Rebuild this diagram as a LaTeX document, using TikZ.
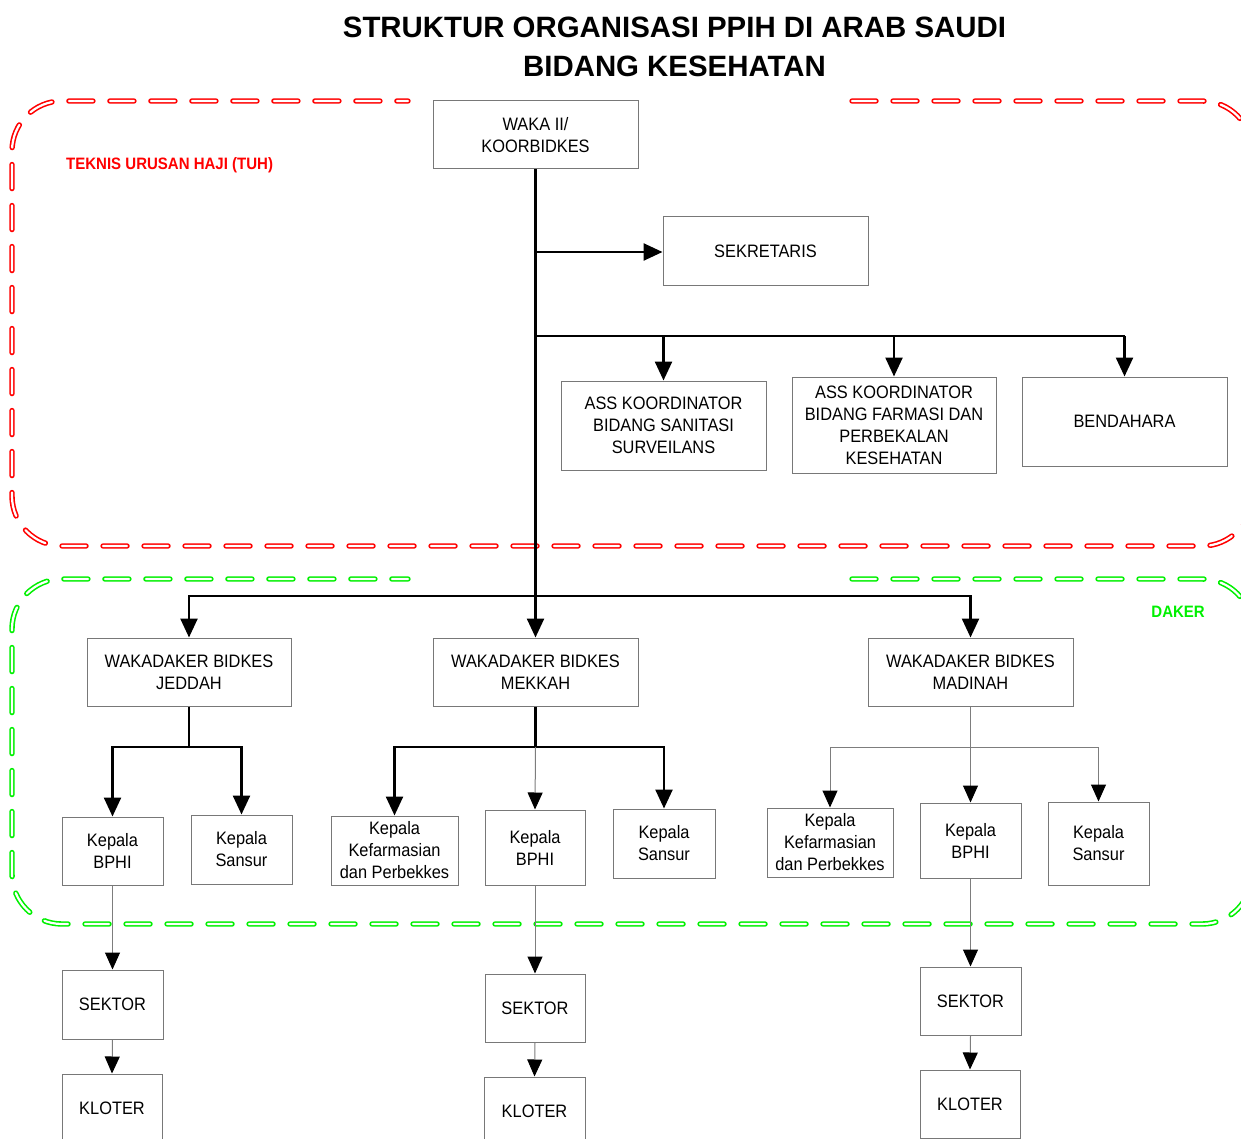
\documentclass[tikz,border=0pt]{standalone}
\usepackage{fontspec}
\setmainfont{Liberation Sans}[FakeStretch=0.91]
\newfontfamily\titlefont{Liberation Sans}
\usetikzlibrary{arrows.meta}
\definecolor{boxgray}{RGB}{120,120,120}
\definecolor{linegray}{RGB}{125,125,125}
\definecolor{zred}{RGB}{255,0,0}
\definecolor{zgreen}{RGB}{0,240,0}
\begin{document}
\begin{tikzpicture}[x=1pt,y=-1pt,
  box/.style={draw=boxgray, line width=1pt, inner sep=0pt, align=center,
    font=\fontsize{18}{22}\selectfont},
  thickline/.style={line width=2.5pt, black},
  conn/.style={line width=2.5pt, black, -{Triangle[width=17pt,length=19pt]}},
  thinline/.style={line width=1pt, linegray},
  thinconn/.style={line width=1pt, linegray, -{Triangle[width=15pt,length=17pt,color=black,fill=black]}},
  zone/.style={double=white, double distance=2.2pt, line width=1.6pt, line cap=round,
    dash pattern=on 24pt off 17pt, rounded corners=50pt}]
\useasboundingbox (0,0) rectangle (1241,1139);

% zones
\draw[zone, zred] (852,101) -- (1252,101) -- (1252,546) -- (12,546) -- (12,101) -- (408,101);
\draw[zone, zgreen] (852,579) -- (1252,579) -- (1252,924) -- (12,924) -- (12,579) -- (408,579);

% title and zone labels
\node[font=\titlefont\bfseries\fontsize{29.4}{39}\selectfont, align=center] (title) at (674.5,46.5)
  {STRUKTUR ORGANISASI PPIH DI ARAB SAUDI\\BIDANG KESEHATAN};
\node[font=\bfseries\fontsize{16.5}{20}\selectfont, text=zred, anchor=west, inner sep=0pt] (tuh) at (66,165) {TEKNIS URUSAN HAJI (TUH)};
\node[font=\bfseries\fontsize{16.5}{20}\selectfont, text=zgreen, anchor=east, inner sep=0pt] (daker) at (1205,612) {DAKER};

% boxes
\node[box, minimum width=205pt, minimum height=68pt] (waka) at (535.5,135) {WAKA II/\\KOORBIDKES};
\node[box, minimum width=205pt, minimum height=69pt] (sek) at (765.5,251.5) {SEKRETARIS};
\node[box, minimum width=205pt, minimum height=89pt] (san) at (663.5,425.5) {ASS KOORDINATOR\\BIDANG SANITASI\\SURVEILANS};
\node[box, minimum width=204pt, minimum height=96pt] (far) at (894,425) {ASS KOORDINATOR\\BIDANG FARMASI DAN\\PERBEKALAN\\KESEHATAN};
\node[box, minimum width=205pt, minimum height=89pt] (ben) at (1124.5,421.5) {BENDAHARA};

\node[box, minimum width=204pt, minimum height=68pt] (wj) at (189,672) {WAKADAKER BIDKES\\JEDDAH};
\node[box, minimum width=205pt, minimum height=68pt] (wm) at (535.5,672) {WAKADAKER BIDKES\\MEKKAH};
\node[box, minimum width=205pt, minimum height=68pt] (wd) at (970.5,672) {WAKADAKER BIDKES\\MADINAH};

\node[box, minimum width=101pt, minimum height=68pt] (bj) at (112.5,851) {Kepala\\BPHI};
\node[box, minimum width=101pt, minimum height=69pt] (sj) at (241.5,849.5) {Kepala\\Sansur};
\node[box, minimum width=127pt, minimum height=69pt] (kfm) at (394.5,850.5) {Kepala\\Kefarmasian\\dan Perbekkes};
\node[box, minimum width=100pt, minimum height=75pt] (bm) at (535,847.5) {Kepala\\BPHI};
\node[box, minimum width=102pt, minimum height=69pt] (sm) at (664,843.5) {Kepala\\Sansur};
\node[box, minimum width=126pt, minimum height=69pt] (kfd) at (830,842.5) {Kepala\\Kefarmasian\\dan Perbekkes};
\node[box, minimum width=101pt, minimum height=75pt] (bd) at (970.5,840.5) {Kepala\\BPHI};
\node[box, minimum width=101pt, minimum height=83pt] (sd) at (1098.5,843.5) {Kepala\\Sansur};

\node[box, minimum width=101pt, minimum height=69pt] (sekj) at (112.5,1004.5) {SEKTOR};
\node[box, minimum width=100pt, minimum height=68pt] (sekm) at (535,1008) {SEKTOR};
\node[box, minimum width=101pt, minimum height=68pt] (sekd) at (970.5,1001) {SEKTOR};
\node[box, minimum width=100pt, minimum height=68pt] (kj) at (112,1108) {KLOTER};
\node[box, minimum width=101pt, minimum height=68pt] (km) at (534.5,1111) {KLOTER};
\node[box, minimum width=100pt, minimum height=68pt] (kd) at (970,1104) {KLOTER};

% junction coordinates
\coordinate (j1) at (535.5,252);
\coordinate (j2) at (535.5,336);
\coordinate (j3) at (535.5,596);
\coordinate (jj) at (189,747);
\coordinate (jm) at (535.5,747);
\coordinate (jd) at (970.5,747);

% top connectors
\draw[conn] (waka.south) -- (wm.north);
\draw[conn] (j1) -- (sek.west |- j1);
\draw[thickline] (j2) -- (ben.north |- j2);
\draw[conn] (j2 -| san.north) -- (san.north);
\draw[conn] (j2 -| far.north) -- (far.north);
\draw[conn] (j2 -| ben.north) -- (ben.north);
\draw[conn] (j3) -| (wj.north);
\draw[conn] (j3) -| (wd.north);

% Jeddah
\draw[thickline] (wj.south) -- (jj);
\draw[conn] (jj) -| (bj.north);
\draw[conn] (jj) -| (sj.north);
% Mekkah
\draw[thickline] (wm.south) -- (jm);
\draw[conn] (jm) -| (kfm.north);
\draw[conn] (jm) -| (sm.north);
\draw[thinconn] (jm) -- (bm.north);
% Madinah
\draw[thinconn] (wd.south) -- (bd.north);
\draw[thinconn] (jd) -| (kfd.north);
\draw[thinconn] (jd) -| (sd.north);

% lower chains
\draw[thinconn] (bj.south) -- (sekj.north);
\draw[thinconn] (sekj.south) -- (kj.north);
\draw[thinconn] (bm.south) -- (sekm.north);
\draw[thinconn] (sekm.south) -- (km.north);
\draw[thinconn] (bd.south) -- (sekd.north);
\draw[thinconn] (sekd.south) -- (kd.north);
\end{tikzpicture}
\end{document}
